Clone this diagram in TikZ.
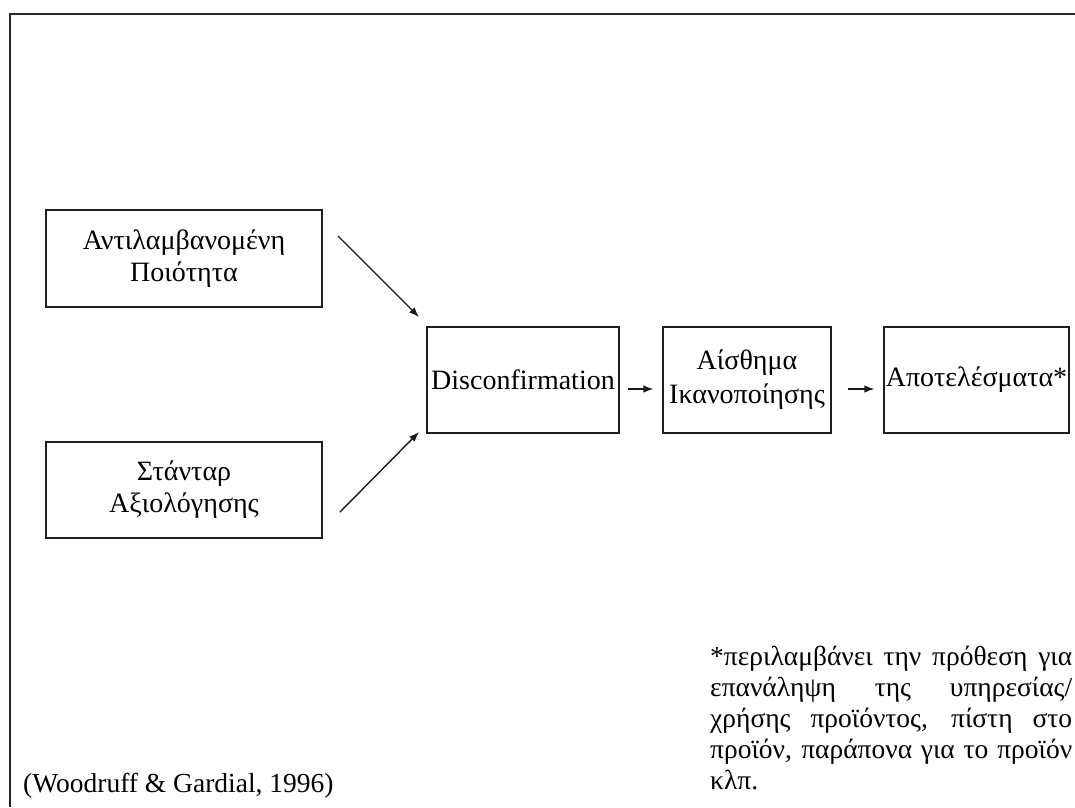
\documentclass[tikz,border=0pt]{standalone}
\usepackage{fontspec}
\setmainfont{Liberation Serif}
\usetikzlibrary{arrows.meta}
\begin{document}
\begin{tikzpicture}[x=1pt,y=-1pt,
  boxnode/.style={draw=black!88, line width=1.2pt, inner sep=0pt, align=center,
    font=\fontsize{28}{32}\selectfont},
  arr/.style={draw=black!90, line width=1.4pt, -{Latex[length=10pt,width=7.5pt]}},
  notel/.style={inner sep=0pt, anchor=base west, font=\fontsize{27.5}{31}\selectfont},
  frame/.style={draw=black!85, line width=2.2pt}]
\useasboundingbox (0,0) rectangle (1075,807);
% frame
\draw[frame] (9,14) -- (1075,14);
\draw[frame] (10,13) -- (10,807);
% boxes
\node[boxnode, minimum width=276pt, minimum height=97pt] (q) at (184,258.5) {Αντιλαμβανομένη\\Ποιότητα};
\node[boxnode, minimum width=276pt, minimum height=96pt] (s) at (184,490) {Στάνταρ\\Αξιολόγησης};
\node[boxnode, minimum width=192pt, minimum height=106pt] (d) at (523,380) {Disconfirmation};
\node[boxnode, minimum width=168pt, minimum height=106pt, font=\fontsize{28}{34}\selectfont] (a) at (747,380) {Αίσθημα\\Ικανοποίησης};
\node[boxnode, minimum width=185pt, minimum height=106pt] (r) at (976.5,380) {Αποτελέσματα*};
% arrows
\coordinate (qa) at (338,236);
\coordinate (da) at (419,317);
\coordinate (sa) at (340,512);
\coordinate (db) at (419,432);
\draw[arr] (qa) -- (da);
\draw[arr] (sa) -- (db);
\draw[arr] ([shift={(8,9)}]d.east) -- ([shift={(-9,9)}]a.west);
\draw[arr] ([shift={(16,9)}]a.east) -- ([shift={(-9,9)}]r.west);
% note
\node[notel] (n1) at (710,665) {\makebox[362pt][s]{*περιλαμβάνει την πρόθεση για}};
\node[notel] (n2) at (710,696) {\makebox[362pt][s]{επανάληψη της υπηρεσίας/}};
\node[notel] (n3) at (710,727) {\makebox[362pt][s]{χρήσης προϊόντος, πίστη στο}};
\node[notel] (n4) at (710,758) {\makebox[362pt][s]{προϊόν, παράπονα για το προϊόν}};
\node[notel] (n5) at (710,789) {κλπ.};
% source
\node[notel] (src) at (23,792) {(Woodruff \& Gardial, 1996)};
\end{tikzpicture}
\end{document}
